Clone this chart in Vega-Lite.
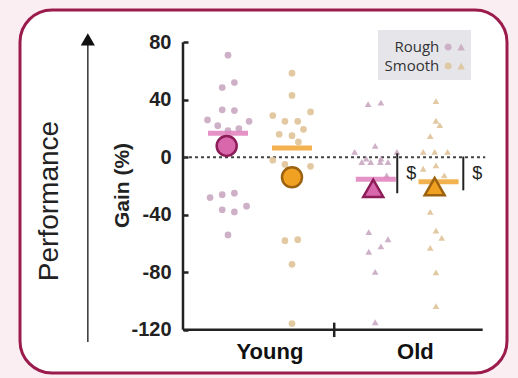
{
  "$schema": "https://vega.github.io/schema/vega-lite/v6.json",
  "width": 487,
  "height": 363,
  "autosize": {"type": "none"},
  "padding": {"left": 20, "top": 10, "right": 11, "bottom": 5},
  "background": "#fbeef2",
  "config": {
    "view": {"fill": "white", "stroke": "#9b1b4d", "strokeWidth": 3, "cornerRadius": 32},
    "font": "Liberation Sans"
  },
  "datasets": {
    "points": [
      {"age": "Young", "surface": "Rough", "x": 1.00, "gain": 71},
      {"age": "Young", "surface": "Rough", "x": 1.10, "gain": 52},
      {"age": "Young", "surface": "Rough", "x": 0.91, "gain": 48.5},
      {"age": "Young", "surface": "Rough", "x": 0.91, "gain": 33},
      {"age": "Young", "surface": "Rough", "x": 1.10, "gain": 32.5},
      {"age": "Young", "surface": "Rough", "x": 0.68, "gain": 26},
      {"age": "Young", "surface": "Rough", "x": 1.33, "gain": 25},
      {"age": "Young", "surface": "Rough", "x": 0.84, "gain": 22},
      {"age": "Young", "surface": "Rough", "x": 1.17, "gain": 20},
      {"age": "Young", "surface": "Rough", "x": 1.00, "gain": 18.5},
      {"age": "Young", "surface": "Rough", "x": 0.72, "gain": -28},
      {"age": "Young", "surface": "Rough", "x": 0.91, "gain": -26},
      {"age": "Young", "surface": "Rough", "x": 1.10, "gain": -25},
      {"age": "Young", "surface": "Rough", "x": 0.91, "gain": -36.5},
      {"age": "Young", "surface": "Rough", "x": 1.10, "gain": -38},
      {"age": "Young", "surface": "Rough", "x": 1.29, "gain": -34},
      {"age": "Young", "surface": "Rough", "x": 1.00, "gain": -54},
      {"age": "Young", "surface": "Smooth", "x": 2.00, "gain": 58.5},
      {"age": "Young", "surface": "Smooth", "x": 2.00, "gain": 43},
      {"age": "Young", "surface": "Smooth", "x": 1.70, "gain": 29},
      {"age": "Young", "surface": "Smooth", "x": 2.29, "gain": 31.5},
      {"age": "Young", "surface": "Smooth", "x": 1.89, "gain": 25},
      {"age": "Young", "surface": "Smooth", "x": 2.09, "gain": 25},
      {"age": "Young", "surface": "Smooth", "x": 2.18, "gain": 19.4},
      {"age": "Young", "surface": "Smooth", "x": 1.80, "gain": 16},
      {"age": "Young", "surface": "Smooth", "x": 2.00, "gain": 15},
      {"age": "Young", "surface": "Smooth", "x": 2.10, "gain": 10.7},
      {"age": "Young", "surface": "Smooth", "x": 1.70, "gain": -2},
      {"age": "Young", "surface": "Smooth", "x": 2.29, "gain": -6.3},
      {"age": "Young", "surface": "Smooth", "x": 1.89, "gain": -5},
      {"age": "Young", "surface": "Smooth", "x": 1.89, "gain": -58},
      {"age": "Young", "surface": "Smooth", "x": 2.09, "gain": -57.3},
      {"age": "Young", "surface": "Smooth", "x": 2.00, "gain": -74.4},
      {"age": "Young", "surface": "Smooth", "x": 2.00, "gain": -115.6},
      {"age": "Old", "surface": "Rough", "x": 3.19, "gain": 37},
      {"age": "Old", "surface": "Rough", "x": 3.39, "gain": 38},
      {"age": "Old", "surface": "Rough", "x": 3.30, "gain": 7.9},
      {"age": "Old", "surface": "Rough", "x": 2.98, "gain": 3.7},
      {"age": "Old", "surface": "Rough", "x": 3.64, "gain": 3.7},
      {"age": "Old", "surface": "Rough", "x": 3.16, "gain": -1},
      {"age": "Old", "surface": "Rough", "x": 3.39, "gain": -1},
      {"age": "Old", "surface": "Rough", "x": 3.09, "gain": -3.3},
      {"age": "Old", "surface": "Rough", "x": 3.23, "gain": -3.3},
      {"age": "Old", "surface": "Rough", "x": 3.38, "gain": -3.3},
      {"age": "Old", "surface": "Rough", "x": 3.50, "gain": -3.3},
      {"age": "Old", "surface": "Rough", "x": 3.48, "gain": -12.6},
      {"age": "Old", "surface": "Rough", "x": 3.20, "gain": -52},
      {"age": "Old", "surface": "Rough", "x": 3.50, "gain": -57},
      {"age": "Old", "surface": "Rough", "x": 3.39, "gain": -62},
      {"age": "Old", "surface": "Rough", "x": 3.20, "gain": -65.7},
      {"age": "Old", "surface": "Rough", "x": 3.30, "gain": -79.7},
      {"age": "Old", "surface": "Rough", "x": 3.30, "gain": -114.7},
      {"age": "Old", "surface": "Smooth", "x": 4.25, "gain": 39},
      {"age": "Old", "surface": "Smooth", "x": 4.25, "gain": 25.4},
      {"age": "Old", "surface": "Smooth", "x": 4.31, "gain": 22.4},
      {"age": "Old", "surface": "Smooth", "x": 4.16, "gain": 14.7},
      {"age": "Old", "surface": "Smooth", "x": 4.05, "gain": 3.7},
      {"age": "Old", "surface": "Smooth", "x": 4.23, "gain": 3.7},
      {"age": "Old", "surface": "Smooth", "x": 4.43, "gain": 3.7},
      {"age": "Old", "surface": "Smooth", "x": 4.05, "gain": -8},
      {"age": "Old", "surface": "Smooth", "x": 4.25, "gain": -5.6},
      {"age": "Old", "surface": "Smooth", "x": 4.38, "gain": -12.6},
      {"age": "Old", "surface": "Smooth", "x": 4.16, "gain": -38},
      {"age": "Old", "surface": "Smooth", "x": 4.25, "gain": -51},
      {"age": "Old", "surface": "Smooth", "x": 4.34, "gain": -56},
      {"age": "Old", "surface": "Smooth", "x": 4.16, "gain": -63},
      {"age": "Old", "surface": "Smooth", "x": 4.25, "gain": -80},
      {"age": "Old", "surface": "Smooth", "x": 4.25, "gain": -103.5}
    ],
    "means": [
      {"age": "Young", "surface": "Rough", "x": 1.00, "bar": 16.7, "mx": 0.98, "marker": 7.9},
      {"age": "Young", "surface": "Smooth", "x": 2.00, "bar": 6.5, "mx": 2.00, "marker": -13.9},
      {"age": "Old", "surface": "Rough", "x": 3.31, "bar": -15.3, "mx": 3.27, "marker": -21.6},
      {"age": "Old", "surface": "Smooth", "x": 4.29, "bar": -17, "mx": 4.23, "marker": -20.4}
    ],
    "sig": [
      {"x": 3.645, "y1": 2.8, "y2": -25, "label": "$"},
      {"x": 4.677, "y1": 0.5, "y2": -23, "label": "$"}
    ],
    "one": [{}]
  },
  "encoding": {
    "x": {
      "type": "quantitative",
      "scale": {"domain": [-2.25, 5.36], "nice": false, "zero": false}
    }
  },
  "layer": [
    {
      "data": {"name": "one"},
      "mark": {"type": "rule", "strokeDash": [3, 3], "strokeWidth": 2, "color": "#444"},
      "encoding": {
        "x": {"datum": 0.297, "type": "quantitative", "scale": {"domain": [-2.25, 5.36], "nice": false, "zero": false},
          "axis": {"title": null, "values": [1.648, 3.92], "labelExpr": "datum.value < 2.5 ? 'Young' : 'Old'", "offset": -43, "domain": false, "ticks": false, "grid": false, "labelFont": "Liberation Sans", "labelFontSize": 22, "labelFontWeight": "bold", "labelColor": "#111", "labelPadding": 11}},
        "x2": {"datum": 5.02},
        "y": {"datum": 0, "type": "quantitative", "scale": {"domain": [-150, 102.4], "nice": false, "zero": false},
          "axis": {"title": "Gain (%)", "values": [80, 40, 0, -40, -80, -120], "labelExpr": "datum.value + ''", "offset": -163, "domain": false, "ticks": true, "tickSize": -5, "tickWidth": 2.5, "tickColor": "#222", "labelPadding": 17, "labelFont": "Liberation Sans", "labelFontWeight": "bold", "labelFontSize": 20, "labelColor": "#222", "titleFont": "Liberation Sans", "titleFontSize": 21, "titleFontWeight": "bold", "titleColor": "#222", "titleX": -61, "titleY": 175, "titleAngle": 270, "titleBaseline": "middle", "titleAlign": "center", "grid": false}}
      }
    },
    {
      "data": {"name": "one"},
      "mark": {"type": "rule", "strokeWidth": 2.5, "color": "#222"},
      "encoding": {"x": {"datum": 0.297}, "y": {"datum": -120}, "y2": {"datum": 80}}
    },
    {
      "data": {"name": "one"},
      "mark": {"type": "rule", "strokeWidth": 2.5, "color": "#222"},
      "encoding": {"x": {"datum": 0.297}, "x2": {"datum": 4.98}, "y": {"datum": -120}}
    },
    {
      "data": {"name": "one"},
      "mark": {"type": "rule", "strokeWidth": 2.5, "color": "#222"},
      "encoding": {"x": {"datum": 2.66}, "y": {"datum": -125}, "y2": {"datum": -115}}
    },
    {
      "data": {"name": "one"},
      "mark": {"type": "rule", "strokeWidth": 1.5, "color": "#333"},
      "encoding": {"x": {"datum": -1.19}, "y": {"datum": -128.4}, "y2": {"datum": 80}}
    },
    {
      "data": {"name": "one"},
      "mark": {"type": "point", "shape": "triangle-up", "filled": true, "size": 200, "color": "#111", "opacity": 1},
      "encoding": {"x": {"datum": -1.19}, "y": {"datum": 82}}
    },
    {
      "data": {"values": [{"label": "Performance"}]},
      "mark": {"type": "text", "angle": 270, "fontSize": 28, "font": "Liberation Sans", "color": "#222", "align": "center", "baseline": "middle"},
      "encoding": {"x": {"datum": -1.78}, "y": {"datum": -30.4}, "text": {"field": "label"}}
    },
    {
      "data": {"name": "points"},
      "mark": {"type": "point", "filled": true, "size": 45, "opacity": 0.85},
      "encoding": {
        "x": {"field": "x", "type": "quantitative"},
        "y": {"field": "gain", "type": "quantitative"},
        "color": {"field": "surface", "type": "nominal",
          "scale": {"domain": ["Rough", "Smooth"], "range": ["#c6a2bd", "#ddc092"]},
          "legend": {"title": null, "orient": "none", "legendX": 358, "legendY": 20, "fillColor": "#e6e6ea", "padding": 6,
            "labelFont": "Open Sans", "labelFontSize": 15, "labelColor": "#333", "labelAlign": "right", "labelOffset": -26.35,
            "symbolType": "M -0.93 0 A 0.33 0.33 0 1 0 -0.27 0 A 0.33 0.33 0 1 0 -0.93 0 Z M 0.25 0.33 L 0.6 -0.33 L 0.95 0.33 Z",
            "symbolSize": 470, "symbolOffset": 59.65, "symbolOpacity": 0.8, "symbolStrokeWidth": 0, "rowPadding": -2}},
        "shape": {"field": "age", "type": "nominal", "scale": {"domain": ["Young", "Old"], "range": ["circle", "triangle-up"]}, "legend": null}
      }
    },
    {
      "data": {"name": "means"},
      "mark": {"type": "tick", "orient": "horizontal", "size": 40, "thickness": 5, "opacity": 0.85},
      "encoding": {
        "x": {"field": "x", "type": "quantitative"},
        "y": {"field": "bar", "type": "quantitative"},
        "color": {"condition": {"test": "datum.surface === 'Rough'", "value": "#e07fbd"}, "value": "#f0a531"}
      }
    },
    {
      "data": {"name": "means"},
      "mark": {"type": "point", "filled": true, "size": 400, "strokeWidth": 2.5, "opacity": 1},
      "encoding": {
        "x": {"field": "mx", "type": "quantitative"},
        "y": {"field": "marker", "type": "quantitative"},
        "shape": {"field": "age", "type": "nominal", "legend": null},
        "fill": {"condition": {"test": "datum.surface === 'Rough'", "value": "#d967ab"}, "value": "#f0a122"},
        "stroke": {"condition": {"test": "datum.surface === 'Rough'", "value": "#8c1d58"}, "value": "#9c6210"}
      }
    },
    {
      "data": {"name": "sig"},
      "mark": {"type": "rule", "strokeWidth": 2, "color": "#222"},
      "encoding": {
        "x": {"field": "x", "type": "quantitative"},
        "y": {"field": "y1", "type": "quantitative"},
        "y2": {"field": "y2"}
      }
    },
    {
      "data": {"name": "sig"},
      "mark": {"type": "text", "dx": 9, "align": "left", "baseline": "middle", "fontSize": 18, "color": "#222", "font": "Liberation Sans"},
      "encoding": {
        "x": {"field": "x", "type": "quantitative"},
        "y": {"datum": -11.4},
        "text": {"field": "label"}
      }
    }
  ]
}
